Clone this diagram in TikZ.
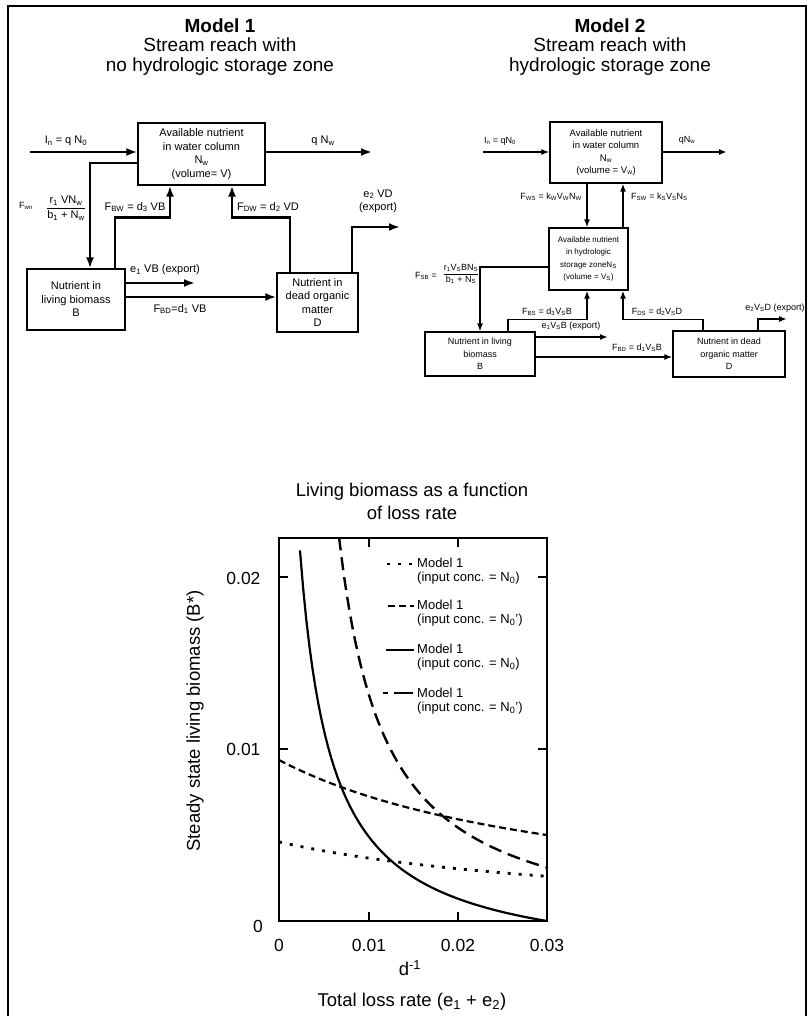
\documentclass[tikz,border=0pt]{standalone}
\usepackage{amsmath}
\usepackage{fontspec}
\setmainfont{Liberation Sans}
\usetikzlibrary{arrows.meta}

\newcommand{\lw}[1]{\textsubscript{#1}}
\newcommand{\ratio}[2]{$\displaystyle\frac{\mbox{#1}}{\mbox{#2}}$}

\begin{document}
\begin{tikzpicture}[x=1pt, y=-1pt,
    ttl/.style={align=center, font=\fontsize{19}{19.5}\selectfont},
    boxa/.style={draw, line width=1.3pt, align=center, inner sep=0pt,
      font=\fontsize{11}{13.5}\selectfont},
    boxb/.style={draw, line width=1.1pt, align=center, inner sep=0pt,
      font=\fontsize{9.5}{12.3}\selectfont},
    laba/.style={font=\fontsize{11}{13}\selectfont, inner sep=1pt},
    labb/.style={font=\fontsize{9}{11}\selectfont, inner sep=1pt},
    flowa/.style={line width=2.6pt, -{Latex[length=11pt,width=8pt]}},
    flowb/.style={line width=1.8pt, -{Latex[length=8pt,width=6pt]}},
    big/.style={font=\fontsize{18.5}{23}\selectfont},
    tick/.style={font=\fontsize{17.5}{20}\selectfont},
    leg/.style={font=\fontsize{13}{14.5}\selectfont, align=left, anchor=west, inner sep=0pt},
    dots/.style={line width=2.8pt, dash pattern=on 3pt off 8pt},
    sdash/.style={line width=2.2pt, dash pattern=on 7pt off 4pt},
    ldash/.style={line width=2.4pt, dash pattern=on 13pt off 7pt},
  ]
  \useasboundingbox (0,0) rectangle (809,1016);
  \draw[line width=1.5pt] (8,1016) -- (8,6) -- (806,6) -- (806,1016);

  % model 1
  \node[ttl] (t1) at (220,47) {\textbf{Model 1}\\Stream reach with\\no hydrologic storage zone};
  \node[boxa, minimum width=127pt, minimum height=62pt] (W1) at (201.5,154) {Available nutrient\\in water column\\N\lw{w}\\(volume= V)};
  \node[boxa, minimum width=98pt, minimum height=61pt] (B1) at (76,299.5) {Nutrient in\\living biomass\\B};
  \node[boxa, minimum width=81pt, minimum height=59pt] (D1) at (317.5,302.5) {Nutrient in\\dead organic\\matter\\D};

  \coordinate (in1) at (30,152);
  \coordinate (out1) at (372,152);
  \coordinate (e1a) at (195,283);
  \coordinate (e2a) at (400,227);
  \coordinate (bd1) at ([yshift=2.5pt]B1.east);

  \draw[flowa] (in1) -- (in1 -| W1.west);
  \draw[flowa] (out1 -| W1.east) -- (out1);
  \draw[flowa] ([yshift=-9pt]W1.west) -| ([xshift=14pt]B1.north);
  \draw[flowa] ([xshift=39pt]B1.north) -- ++(0,-51) -| ([xshift=-31.5pt]W1.south);
  \draw[flowa] ([xshift=-27.5pt]D1.north) -- ++(0,-55) -| ([xshift=30.5pt]W1.south);
  \draw[flowa] ([xshift=34.5pt]D1.north) |- (e2a);
  \draw[flowa] ([yshift=16.5pt]B1.east) -- (e1a);
  \draw[flowa] (bd1) -- (bd1 -| D1.west);

  \node[laba] (lin1) at (66,141) {I\lw{n} = q N\lw{0}};
  \node[laba] (lout1) at (323,141) {q N\lw{w}};
  \node[labb] (lwb1) at (26,206) {F\lw{wn}};
  \node[laba] (lfr1) at (66,208) {\ratio{r\lw{1} VN\lw{w}}{b\lw{1} + N\lw{w}}};
  \node[laba] (lbw1) at (135,207) {F\lw{BW} = d\lw{3} VB};
  \node[laba] (ldw1) at (268,207) {F\lw{DW} = d\lw{2} VD};
  \node[laba, align=center] (le2a) at (378,201) {e\lw{2} VD\\(export)};
  \node[laba] (le1a) at (165,270) {e\lw{1} VB (export)};
  \node[laba] (lbd1) at (180,309) {F\lw{BD}=d\lw{1} VB};

  % model 2
  \node[ttl] (t2) at (610,47) {\textbf{Model 2}\\Stream reach with\\hydrologic storage zone};
  \node[boxb, minimum width=112pt, minimum height=61pt] (W2) at (606,152.5) {Available nutrient\\in water column\\N\lw{w}\\(volume = V\lw{w})};
  \node[boxb, minimum width=79pt, minimum height=62pt, font=\fontsize{8}{12.3}\selectfont] (S2) at (588.5,259) {Available nutrient\\in hydrologic\\storage zoneN\lw{S}\\(volume = V\lw{S})};
  \node[boxb, minimum width=110pt, minimum height=44pt, font=\fontsize{9}{12.3}\selectfont] (B2) at (480,354) {Nutrient in living\\biomass\\B};
  \node[boxb, minimum width=112pt, minimum height=46pt, font=\fontsize{9}{12.3}\selectfont] (D2) at (729,354) {Nutrient in dead\\organic matter\\D};

  \coordinate (in2) at (483,152);
  \coordinate (out2) at (727,152);
  \coordinate (ws) at ([xshift=-19pt]W2.south);
  \coordinate (sw) at ([xshift=17pt]W2.south);
  \coordinate (e1b) at (608,337);
  \coordinate (e2b) at (787,319);
  \coordinate (bd2) at ([yshift=-3pt]B2.east);

  \draw[flowb] (in2) -- (in2 -| W2.west);
  \draw[flowb] (out2 -| W2.east) -- (out2);
  \draw[flowb] (ws) -- (ws |- S2.north);
  \draw[flowb] (sw |- S2.north) -- (sw);
  \draw[flowb] ([yshift=-8pt]S2.west) -| (B2.north);
  \draw[flowb] ([xshift=28pt]B2.north) -- ++(0,-12) -| ([xshift=-1.5pt]S2.south);
  \draw[flowb] ([xshift=-26pt]D2.north) -- ++(0,-11) -| ([xshift=34.5pt]S2.south);
  \draw[flowb] ([xshift=29pt]D2.north) |- (e2b);
  \draw[flowb] ([yshift=17pt]B2.east) -- (e1b);
  \draw[flowb] (bd2) -- (bd2 -| D2.west);

  \node[labb] (lin2) at (500,141) {I\lw{n} = qN\lw{0}};
  \node[labb] (lout2) at (687,140) {qN\lw{w}};
  \node[labb, anchor=east] (lws) at (583,197) {F\lw{WS} = k\lw{W}V\lw{W}N\lw{W}};
  \node[labb, anchor=west] (lsw) at (630,197) {F\lw{SW} = k\lw{S}V\lw{S}N\lw{S}};
  \node[labb] (lsb) at (426,276) {F\lw{SB} =};
  \node[labb] (lfr2) at (461,274) {\ratio{r\lw{1}V\lw{S}BN\lw{S}}{b\lw{1} + N\lw{S}}};
  \node[labb] (lbs) at (547,312) {F\lw{BS} = d\lw{3}V\lw{S}B};
  \node[labb] (lds) at (657,312) {F\lw{DS} = d\lw{2}V\lw{S}D};
  \node[labb] (le2b) at (775,308) {e\lw{2}V\lw{S}D (export)};
  \node[labb] (le1b) at (571,326) {e\lw{1}V\lw{S}B (export)};
  \node[labb] (lbd2) at (637,348) {F\lw{BD} = d\lw{1}V\lw{S}B};

  % graph
  \node[big, align=center] (gt) at (412,501) {Living biomass as a function\\of loss rate};
  \draw[line width=1.8pt] (279,538) rectangle (547,921);
  \foreach \x in {369,458} {
    \draw[line width=1.5pt] (\x,921) -- ++(0,-9);
    \draw[line width=1.5pt] (\x,538) -- ++(0,9);
  }
  \foreach \y in {577,749} {
    \draw[line width=1.5pt] (279,\y) -- ++(9,0);
    \draw[line width=1.5pt] (547,\y) -- ++(-9,0);
  }
  \node[tick] (x0) at (279,945) {0};
  \node[tick] (x1) at (369,945) {0.01};
  \node[tick] (x2) at (458,945) {0.02};
  \node[tick] (x3) at (547,945) {0.03};
  \node[tick] (y0) at (258,926) {0};
  \node[tick, anchor=east] (y1) at (264,749) {0.01};
  \node[tick, anchor=east] (y2) at (264,578) {0.02};
  \node[big] (xu) at (410,968) {d\textsuperscript{-1}};
  \node[big] (xl) at (412,1002) {Total loss rate (e\lw{1} + e\lw{2})};
  \node[big, rotate=90] (yl) at (195,721) {Steady state living biomass (B*)};

  \begin{scope}[shift={(279,921)}, x=89.3pt, y=17.2pt]
    \draw[dots] plot[domain=0:3, samples=60] (\x, {17.94/(\x+3.9)});
    \draw[sdash] plot[domain=0:3, samples=60] (\x, {32.2/(\x+3.44)});
    \draw[line width=2.2pt] plot[domain=0.235:3, samples=80] (\x, {8.63*(1/(\x+0.12)-0.3205)});
    \draw[ldash] plot[domain=0.673:3, samples=80] (\x, {12.29/(\x-0.15)-1.2});
  \end{scope}

  \draw[dots] (387,564) -- (413,564);
  \draw[sdash] (388,606) -- (414,606);
  \draw[line width=2.2pt] (386,650) -- (414,650);
  \draw[line width=2.2pt, dash pattern=on 5pt off 6pt on 14pt off 0pt] (383,693) -- (416,693);
  \node[leg] (k1) at (417,571) {Model 1\\(input conc. = N\lw{0})};
  \node[leg] (k2) at (417,613) {Model 1\\(input conc. = N\lw{0}')};
  \node[leg] (k3) at (417,657) {Model 1\\(input conc. = N\lw{0})};
  \node[leg] (k4) at (417,701) {Model 1\\(input conc. = N\lw{0}')};
\end{tikzpicture}
\end{document}
